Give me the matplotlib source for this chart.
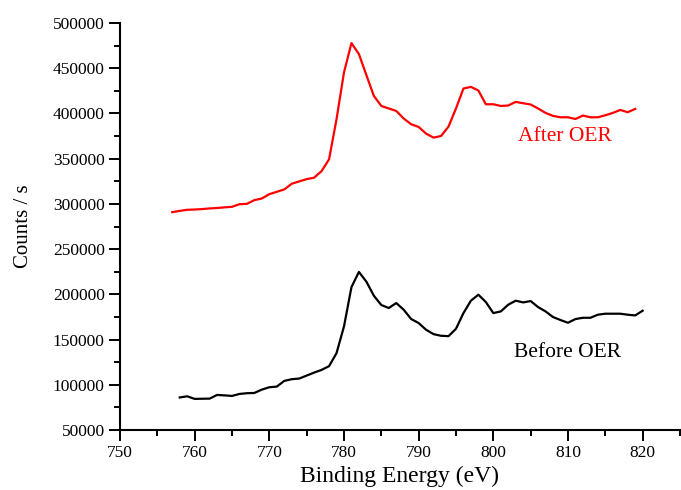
import matplotlib
matplotlib.use("Agg")
import matplotlib.pyplot as plt
from matplotlib.ticker import MultipleLocator

# Before OER spectrum (black)
energia_antes = [758, 759, 760, 761, 762, 763, 764, 765, 766, 767, 768, 769, 770,
                 771, 772, 773, 774, 775, 776, 777, 778, 779, 780, 781, 782, 783,
                 784, 785, 786, 787, 788, 789, 790, 791, 792, 793, 794, 795, 796,
                 797, 798, 799, 800, 801, 802, 803, 804, 805, 806, 807, 808, 809,
                 810, 811, 812, 813, 814, 815, 816, 817, 818, 819, 820]
contagens_antes = [86000, 87300, 84400, 84600, 84700, 88800, 88300, 87700, 89900,
                   90700, 91000, 94700, 97300, 98000, 104300, 106200, 106900, 110200,
                   113500, 116500, 120600, 135000, 164500, 208000, 224800, 214000,
                   198500, 188200, 184900, 190400, 183000, 172700, 168300, 160800,
                   156000, 154200, 153800, 161900, 179300, 193000, 199600, 191500,
                   179300, 181100, 188600, 193000, 191100, 192600, 185900, 181100,
                   174900, 171600, 168600, 172700, 174100, 174100, 177500, 178600,
                   178600, 178600, 177500, 176700, 181900]

# After OER spectrum (red)
energia_depois = [757, 758, 759, 760, 761, 762, 763, 764, 765, 766, 767, 768, 769,
                  770, 771, 772, 773, 774, 775, 776, 777, 778, 779, 780, 781, 782,
                  783, 784, 785, 786, 787, 788, 789, 790, 791, 792, 793, 794, 795,
                  796, 797, 798, 799, 800, 801, 802, 803, 804, 805, 806, 807, 808,
                  809, 810, 811, 812, 813, 814, 815, 816, 817, 818, 819]
contagens_depois = [290900, 292300, 293500, 293800, 294300, 295000, 295500, 296200,
                    296800, 299700, 300100, 304200, 306000, 310800, 313400, 316000,
                    322300, 324900, 327400, 329000, 336300, 349300, 393600, 445400,
                    477800, 465600, 442400, 419400, 408300, 405500, 402800, 394400,
                    388100, 385100, 377700, 373300, 375100, 385500, 405500, 427600,
                    429400, 425400, 410200, 410200, 408300, 408800, 412800, 411300,
                    409900, 405500, 400600, 397300, 395800, 395800, 393900, 397700,
                    395800, 395800, 398000, 400600, 403900, 401400, 405000]


def main():
    plt.rcParams["font.family"] = ["Liberation Serif", "DejaVu Serif"]

    fig = plt.figure(figsize=(6.81, 4.90), dpi=100)
    ax = fig.add_axes([0.1762, 0.1224, 0.8223, 0.8306])

    ax.plot(energia_antes, contagens_antes, color="black", lw=1.6)
    ax.plot(energia_depois, contagens_depois, color="red", lw=1.6)

    ax.text(809.6, 374800, "After OER", color="red", fontsize=15.5,
            ha="center", va="center")
    ax.text(810, 135300, "Before OER", color="black", fontsize=15.5,
            ha="center", va="center")

    ax.set_xlim(750, 825)
    ax.set_ylim(50000, 500000)
    ax.xaxis.set_major_locator(MultipleLocator(10))
    ax.xaxis.set_minor_locator(MultipleLocator(5))
    ax.yaxis.set_major_locator(MultipleLocator(50000))
    ax.yaxis.set_minor_locator(MultipleLocator(25000))
    ax.set_xticks(range(750, 821, 10))

    for lado in ["top", "right"]:
        ax.spines[lado].set_visible(False)
    for lado in ["left", "bottom"]:
        ax.spines[lado].set_linewidth(1.5)

    ax.tick_params(which="major", length=8, width=1.4, labelsize=12.5, pad=3)
    ax.tick_params(which="minor", length=4, width=1.4)

    ax.set_xlabel("Binding Energy (eV)", fontsize=17, labelpad=3)
    ax.set_ylabel("Counts / s", fontsize=15, labelpad=14)

    fig.savefig("out.png", dpi=100)


if __name__ == "__main__":
    main()
